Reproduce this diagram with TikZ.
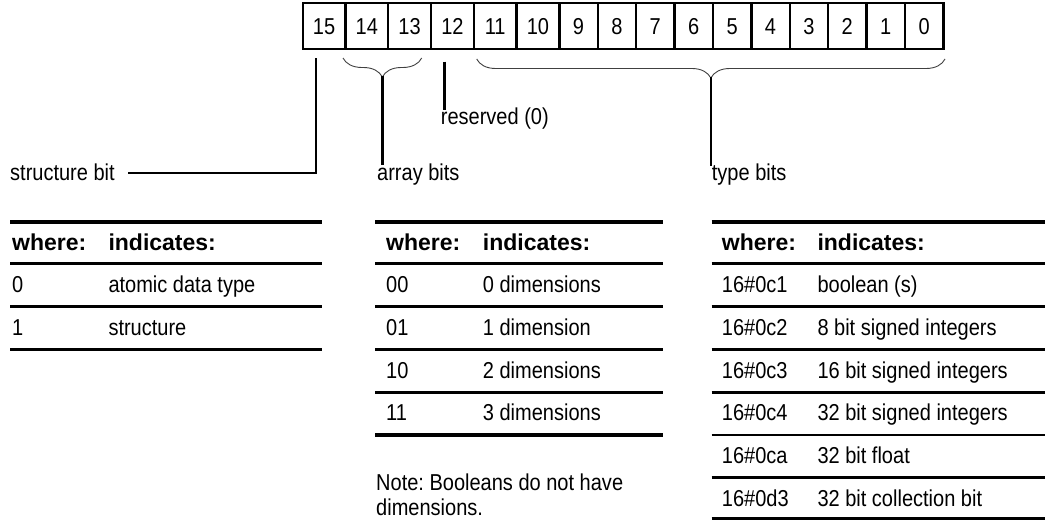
\documentclass[tikz,border=0pt]{standalone}
\usepackage{fontspec}
\setmainfont{Liberation Sans}[FakeStretch=0.87]
\newfontfamily\hdfont{Liberation Sans}[FakeStretch=1.0]
\usetikzlibrary{decorations.pathreplacing}
\frenchspacing
\tikzset{
  cell/.style={draw, line width=2.4pt, minimum height=46pt, inner sep=0pt, anchor=center, text height=16.5pt, text depth=0pt},
  lbl/.style={anchor=base west, inner sep=0pt},
  hd/.style={anchor=base west, inner sep=0pt, font=\fontsize{23}{27}\selectfont\hdfont\bfseries},
  lead/.style={line width=2.4pt},
  bracestyle/.style={decorate, decoration={brace, amplitude=19pt}, line width=0.9pt, black!75},
  thickrule/.style={line width=3.6pt},
  rule/.style={line width=2.8pt}
}
\begin{document}
\begin{tikzpicture}[x=1pt, y=-1pt, font=\fontsize{23}{27}\selectfont]
\useasboundingbox (0,0) rectangle (1045,520);

% bit cells
\foreach \n/\cx/\w in {15/324.1/42.77, 14/366.85/42.77, 13/409.6/42.77, 12/452.4/42.77, 11/495.2/42.77, 10/537.9/42.77, 9/578.5/38.4, 8/616.9/38.4, 7/655.3/38.4, 6/693.7/38.4, 5/732.1/38.4, 4/770.5/38.4, 3/808.9/38.4, 2/847.3/38.4, 1/885.7/38.4, 0/924.1/38.4}
  \node[cell, minimum width=\w pt] (b\n) at (\cx,26) {\n};

% labels
\node[lbl] (sb) at (10,180) {structure bit};
\node[lbl] (ab) at (377,180) {array bits};
\node[lbl] (rs) at (440.7,124) {reserved (0)};
\node[lbl] (tb) at (711.7,180) {type bits};

% braces
\draw[bracestyle] (421.7,58) -- (343,58);
\draw[bracestyle] (945,59) -- (476.7,59);
\coordinate (atip) at (382.35,76);
\coordinate (ttip) at (710.85,77);
\coordinate (stop) at (316,58);
\coordinate (rtop) at (444.3,61.7);

% leader lines
\draw[lead] (stop) |- ([xshift=13pt,yshift=-1pt]sb.east);
\draw[lead] (atip) -- ([yshift=-1.5pt]atip |- ab.north);
\draw[lead] (rtop) -- ([yshift=-3pt]rtop |- rs.north);
\draw[lead] (ttip) -- ([yshift=-3pt]ttip |- tb.north);

% ---------- table 1 ----------
\draw[thickrule] (10,221.7) -- (322,221.7);
\draw[rule] (10,263.3) -- (322,263.3);
\node[hd] (t1w) at (12,250) {where:};
\node[hd] (t1i) at (108.3,250) {indicates:};
\node[lbl] (t1a1) at (12,292) {0};
\node[lbl] (t1b1) at (108.3,292) {atomic data type};
\draw[rule] (10,306.5) -- (322,306.5);
\node[lbl] (t1a2) at (12,335) {1};
\node[lbl] (t1b2) at (108.3,335) {structure};
\draw[thickrule] (10,349.5) -- (322,349.5);

% ---------- table 2 ----------
\draw[thickrule] (375,221.7) -- (663.3,221.7);
\draw[rule] (375,263.3) -- (663.3,263.3);
\node[hd] (t2w) at (386,250) {where:};
\node[hd] (t2i) at (482.7,250) {indicates:};
\foreach \a/\b/\y [count=\i] in {00/{0 dimensions}/292, 01/{1 dimension}/335, 10/{2 dimensions}/378, 11/{3 dimensions}/420.8}{
  \node[lbl] (t2a\i) at (386,\y) {\a};
  \node[lbl] (t2b\i) at (482.7,\y) {\b};
}
\draw[rule] (375,306.5) -- (663.3,306.5);
\draw[rule] (375,349.5) -- (663.3,349.5);
\draw[rule] (375,392.3) -- (663.3,392.3);
\draw[thickrule] (375,435) -- (663.3,435);
\node[lbl] (n1) at (376,490.5) {Note: Booleans do not have};
\node[lbl] (n2) at (376,515.5) {dimensions.};

% ---------- table 3 ----------
\draw[thickrule] (711.7,221.7) -- (1045,221.7);
\draw[rule] (711.7,263.3) -- (1045,263.3);
\node[hd] (t3w) at (721.7,250) {where:};
\node[hd] (t3i) at (817.3,250) {indicates:};
\foreach \a/\b/\y [count=\i] in {{16\#0c1}/{boolean (s)}/292, {16\#0c2}/{8 bit signed integers}/335, {16\#0c3}/{16 bit signed integers}/378, {16\#0c4}/{32 bit signed integers}/420.8, {16\#0ca}/{32 bit float}/463.5, {16\#0d3}/{32 bit collection bit}/506.2}{
  \node[lbl] (t3a\i) at (721.7,\y) {\a};
  \node[lbl] (t3b\i) at (817.3,\y) {\b};
}
\foreach \y in {306.5, 349.5, 392.3, 435, 477.7}
  \draw[rule] (711.7,\y) -- (1045,\y);
\draw[rule] (711.7,518.6) -- (1045,518.6);
\end{tikzpicture}
\end{document}
